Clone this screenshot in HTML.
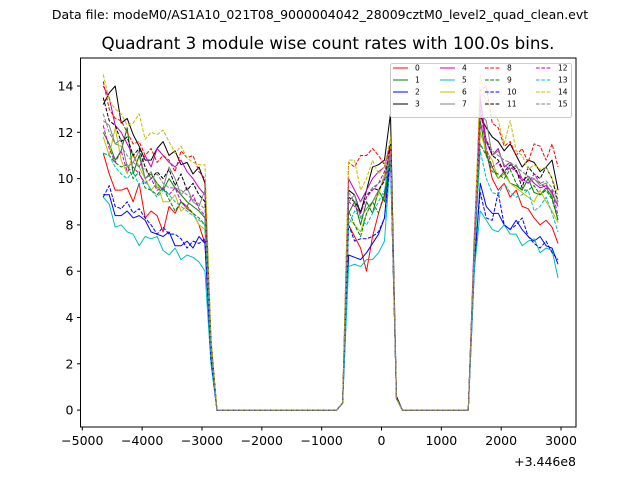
<!DOCTYPE html>
<html><head><meta charset="utf-8"><style>
html,body{margin:0;padding:0;background:#fff;}
svg{display:block;font-family:"DejaVu Sans","Liberation Sans",sans-serif;}
</style></head><body>
<svg id="chart" width="640" height="480" viewBox="0 0 640 480" xmlns="http://www.w3.org/2000/svg">
<text x="320" y="19" font-size="12.5" text-anchor="middle">Data file: modeM0/AS1A10_021T08_9000004042_28009cztM0_level2_quad_clean.evt</text>
<text x="328" y="49" font-size="16.7" text-anchor="middle">Quadrant 3 module wise count rates with 100.0s bins.</text>
<g id="plot"></g>
</svg>
<script>
// time segments
const seg1Start = -4650, seg2Start = -650, seg3Start = 1550, tEnd = 2950, step = 100;
const yTicks = [0, 2, 4, 6, 8, 10, 12, 14];
const xTicks = [-5000, -4000, -3000, -2000, -1000, 0, 1000, 2000, 3000];
const xTickLabels = ["\u22125000", "\u22124000", "\u22123000", "\u22122000", "\u22121000", "0", "1000", "2000", "3000"];
const seriesNames = ["0","1","2","3","4","5","6","7","8","9","10","11","12","13","14","15"];
// segment 1: -4650..-2850
const seg1 = [
[11.1,10.2,9.5,9.5,9.6,9.0,9.8,8.3,8.6,8.4,7.7,8.8,8.5,9.0,8.7,8.5,8.0,7.2,2.5],
[12.0,11.5,10.8,11.2,12.2,10.2,11.0,10.0,10.2,9.8,9.5,10.0,9.6,9.3,9.0,8.8,8.6,8.3,2.5],
[9.3,9.3,8.4,8.4,8.6,8.3,8.4,8.2,7.7,7.6,7.5,7.7,7.1,7.1,7.3,7.0,7.5,7.2,2.2],
[13.2,13.7,14.0,12.4,12.6,11.9,11.4,10.8,10.8,11.3,11.6,11.0,11.2,10.6,10.7,10.2,10.5,9.8,3.0],
[14.0,13.5,12.3,12.0,11.5,11.0,10.5,11.0,10.5,11.3,11.0,10.7,10.5,10.8,10.3,10.0,9.6,9.3,2.8],
[9.2,8.9,7.9,8.0,7.7,7.6,7.1,7.5,7.4,7.5,6.9,6.7,7.0,6.5,6.7,6.6,6.4,6.0,2.0],
[11.8,11.0,12.2,10.8,10.2,11.1,10.5,10.0,9.5,9.8,9.0,9.0,9.3,8.6,8.8,8.5,8.0,7.8,2.5],
[12.5,12.3,11.5,11.7,10.5,10.7,11.2,10.0,10.3,9.6,9.6,10.5,10.0,9.3,9.6,9.0,8.8,9.5,2.7],
[14.2,13.0,12.6,12.5,12.0,11.5,11.6,11.0,11.3,10.7,11.0,10.8,10.3,11.2,10.9,11.0,10.3,10.0,3.0],
[11.1,11.0,10.7,10.5,10.6,10.0,10.3,9.6,9.5,9.3,9.6,9.1,8.6,9.0,8.8,8.5,8.3,8.0,2.5],
[9.2,9.7,8.8,8.7,9.0,8.5,8.7,8.3,8.0,7.6,7.9,7.6,7.6,7.4,7.0,7.3,7.2,7.4,2.2],
[13.5,12.5,12.3,11.6,11.8,11.0,11.3,10.5,10.0,10.3,10.0,10.4,9.7,10.2,9.5,9.8,9.3,9.0,3.0],
[12.3,11.3,10.7,11.2,10.3,10.5,10.2,9.8,10.0,9.5,9.6,9.3,9.6,9.0,8.8,9.3,8.7,8.4,2.6],
[11.1,11.0,10.5,10.2,10.0,10.3,9.7,9.9,9.5,9.2,9.5,9.3,9.0,8.8,8.6,8.4,8.2,8.0,2.5],
[14.5,13.4,13.0,12.8,12.3,12.4,12.8,11.7,12.0,11.9,12.1,11.6,11.1,11.4,10.9,10.7,10.6,10.6,3.2],
[12.8,12.0,11.5,11.4,11.0,10.7,10.5,10.4,10.0,10.2,9.8,9.6,9.6,9.5,9.3,9.1,8.9,8.7,2.7]];
// segment 2: -650..250
const seg2 = [
[0.3,8.0,7.5,7.0,6.0,7.5,8.5,9.3,11.5,0.5],
[0.3,8.5,9.0,8.0,9.0,8.5,9.5,9.0,11.3,0.5],
[0.3,6.7,6.6,6.5,6.8,7.2,7.6,8.3,11.3,0.5],
[0.3,9.5,9.3,8.5,9.5,10.5,10.6,10.8,12.8,0.6],
[0.3,10.0,9.5,9.0,9.5,10.0,10.3,10.5,11.5,0.5],
[0.3,6.2,6.3,6.2,6.5,6.5,6.8,7.3,11.0,0.5],
[0.3,8.3,8.0,7.7,8.5,9.0,9.3,10.2,11.2,0.5],
[0.3,9.0,9.3,8.3,8.7,9.0,9.5,10.0,11.0,0.5],
[0.3,10.7,10.5,11.0,11.0,11.3,11.0,10.6,11.5,0.5],
[0.3,8.6,8.0,7.5,8.5,9.0,8.5,9.4,11.0,0.5],
[0.3,8.0,7.3,7.4,7.4,7.5,7.7,8.3,10.8,0.5],
[0.3,9.2,9.0,8.6,9.2,9.6,9.5,9.9,11.5,0.5],
[0.3,9.0,8.8,8.5,9.2,9.5,9.8,10.3,11.2,0.5],
[0.3,8.0,8.6,8.3,8.0,8.5,9.0,9.5,11.0,0.5],
[0.3,10.8,10.8,9.5,10.0,10.8,10.2,10.5,11.8,0.5],
[0.3,9.4,9.0,9.0,9.3,9.6,9.8,10.0,11.0,0.5]];
// segment 3: 1550..2950
const seg3 = [
[7,13.5,11.2,10.0,9.5,9.8,9.2,9.5,8.8,8.7,8.3,8.0,8.2,7.9,7.2],
[7,12.5,11.0,10.5,10.0,10.3,9.8,9.7,9.5,10.0,9.4,9.3,9.6,9.2,8.2],
[6,9.8,8.8,8.5,8.5,8.0,7.8,8.2,7.8,7.5,7.3,7.5,7.1,7.0,6.3],
[7,12.7,12.2,11.8,11.6,11.2,11.5,11.0,10.5,10.8,10.7,10.3,10.5,10.8,9.5],
[7.5,13.5,11.6,11.0,11.3,10.5,10.7,10.3,9.9,10.1,9.8,9.6,9.7,9.4,8.8],
[6,8.6,8.2,7.8,7.7,8.0,7.6,7.6,7.1,7.3,7.4,6.8,7.0,6.9,5.7],
[6.5,12.0,11.2,10.8,10.0,10.2,9.8,9.6,9.4,9.2,9.0,9.5,9.0,8.6,8.1],
[7,12.8,12.5,11.0,11.2,10.6,10.4,10.6,10.0,9.8,10.0,9.7,9.8,9.3,8.9],
[7,13.8,14.0,12.4,12.2,11.4,11.6,11.0,11.3,10.7,11.5,11.4,10.8,11.5,10.5],
[7,11.5,11.0,10.3,10.2,10.0,10.4,9.8,9.5,9.5,9.7,9.3,9.5,9.1,8.2],
[6.5,9.4,8.3,8.2,9.4,8.0,7.8,8.0,8.3,7.5,7.2,7.0,7.3,6.8,6.5],
[7,12.3,11.7,11.0,10.8,10.3,10.6,10.4,9.6,10.5,10.2,10.0,10.5,10.0,9.0],
[7,13.0,11.3,10.5,10.7,10.2,10.5,10.3,10.0,9.8,10.2,9.8,9.6,9.5,8.4],
[6.5,11.2,10.0,9.4,9.3,9.8,9.4,9.2,9.3,9.5,8.6,8.8,9.2,8.5,7.7],
[7,14.5,13.3,13.0,12.5,11.5,12.5,11.2,11.0,10.4,10.6,10.4,10.5,10.0,9.3],
[7,12.3,11.7,11.2,11.0,10.8,10.7,10.5,10.3,10.1,10.0,9.8,9.9,9.6,9.0]];

const colors = ["#ff0000","#008000","#0000ff","#000000","#bf00bf","#00bfbf","#bfbf00","#808080"];
const AX = {l:80.5, r:576, t:58, b:427};
const xMin = -5030, xMax = 3250, yMin = -0.73, yMax = 15.21;
function xs(v){ return AX.l + (v - xMin) / (xMax - xMin) * (AX.r - AX.l); }
function ys(v){ return AX.b - (v - yMin) / (yMax - yMin) * (AX.b - AX.t); }

const NS = "http://www.w3.org/2000/svg";
const plot = document.getElementById("plot");
function mk(tag, attrs, parent){ const e = document.createElementNS(NS, tag); for (const k in attrs) e.setAttribute(k, attrs[k]); (parent||plot).appendChild(e); return e; }

function buildSeries(i){
  const pts = [];
  for (let t = seg1Start; t <= tEnd; t += step) {
    let v = 0;
    const i1 = Math.round((t - seg1Start)/step);
    const i2 = Math.round((t - seg2Start)/step);
    const i3 = Math.round((t - seg3Start)/step);
    if (i1 >= 0 && i1 < seg1[i].length) v = seg1[i][i1];
    else if (i2 >= 0 && i2 < seg2[i].length) v = seg2[i][i2];
    else if (i3 >= 0 && i3 < seg3[i].length) v = seg3[i][i3];
    pts.push([t, v]);
  }
  return pts;
}

for (let i = 0; i < 16; i++) {
  const pts = buildSeries(i);
  const d = pts.map((p, j) => (j ? "L" : "M") + xs(p[0]).toFixed(2) + "," + ys(p[1]).toFixed(2)).join("");
  const path = mk("path", {d: d, fill: "none", stroke: colors[i % 8], "stroke-width": 1, "stroke-linejoin": "round"});
  if (i >= 8) path.setAttribute("stroke-dasharray", "3.7,1.6");
  
  
}

const frame = mk("rect", {x: AX.l, y: AX.t, width: AX.r - AX.l, height: AX.b - AX.t, fill: "none", stroke: "#000", "stroke-width": 1});



yTicks.forEach(v => {
  const y = ys(v);
  const tk = mk("line", {x1: AX.l - 3.5, x2: AX.l, y1: y, y2: y, stroke: "#000", "stroke-width": 1});
  
  
  const lb = mk("text", {x: AX.l - 7, y: y + 4.5, "font-size": 12.5, "text-anchor": "end"});
  lb.textContent = String(v);
  
  
});
xTicks.forEach((v, j) => {
  const x = xs(v);
  const tk = mk("line", {x1: x, x2: x, y1: AX.b, y2: AX.b + 3.5, stroke: "#000", "stroke-width": 1});
  
  
  const lb = mk("text", {x: x, y: AX.b + 18, "font-size": 12.5, "text-anchor": "middle"});
  lb.textContent = xTickLabels[j];
  
  
});
const off = mk("text", {x: AX.r, y: 466, "font-size": 12.5, "text-anchor": "end"});
off.textContent = "+3.446e8";



const lg = mk("g", {});


const lbox = mk("rect", {x: 390.5, y: 63.5, width: 181, height: 54, rx: 2, fill: "#fff", "fill-opacity": 0.8, stroke: "#ccc", "stroke-width": 1}, lg);


const colX = [393, 440, 485, 536];
const rowY = [67.5, 79.5, 91.5, 103.5];
for (let i = 0; i < 16; i++) {
  const c = Math.floor(i / 4), r = i % 4;
  const g = mk("g", {}, lg);
  
  
  const ln = mk("line", {x1: colX[c], x2: colX[c] + 15, y1: rowY[r] + 0.5, y2: rowY[r] + 0.5, stroke: colors[i % 8], "stroke-width": 1}, g);
  if (i >= 8) ln.setAttribute("stroke-dasharray", "3.7,1.6");
  const tx = mk("text", {x: colX[c] + 22, y: rowY[r] + 3, "font-size": 7.5}, g);
  tx.textContent = seriesNames[i];
}
</script>
</body></html>
